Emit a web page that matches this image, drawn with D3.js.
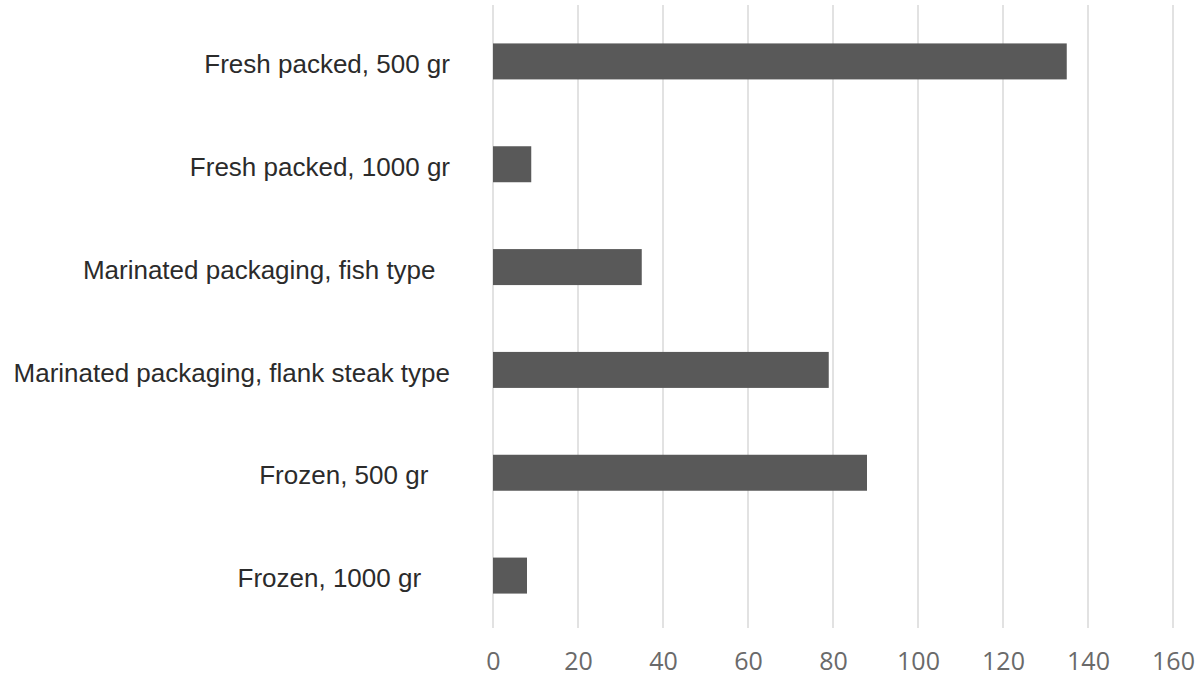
<!DOCTYPE html>
<html>
<head>
<meta charset="utf-8">
<script src="https://cdn.jsdelivr.net/npm/d3@7"></script>
<style>
  html, body { margin: 0; padding: 0; background: #fff; }
  svg { display: block; }
  .cat text { white-space: pre; }
</style>
</head>
<body>
<div id="chart"></div>
<script>
// category labels (trailing spaces kept as in the source chart)
var categories = [
  'Fresh packed, 500 gr',
  'Fresh packed, 1000 gr',
  'Marinated packaging, fish type  ',
  'Marinated packaging, flank steak type',
  'Frozen, 500 gr   ',
  'Frozen, 1000 gr    '
];
var values = [135, 9, 35, 79, 88, 8];
var ticks = [0, 20, 40, 60, 80, 100, 120, 140, 160];

var width = 1202, height = 679;

var svg = d3.select('#chart').append('svg')
  .attr('width', width)
  .attr('height', height);

var x = d3.scaleLinear().domain([0, 160]).range([493, 1173]);
var y = d3.scaleBand().domain(categories).range([10, 627])
  .paddingInner(0.65).paddingOuter(0.325);

// gridlines
svg.append('g').selectAll('line').data(ticks).enter().append('line')
  .attr('x1', function(d) { return x(d); })
  .attr('x2', function(d) { return x(d); })
  .attr('y1', 5)
  .attr('y2', 628)
  .attr('stroke', '#d9d9d9')
  .attr('stroke-width', 1.5);

// bars
svg.append('g').selectAll('rect').data(values).enter().append('rect')
  .attr('x', x(0))
  .attr('y', function(d, i) { return y(categories[i]); })
  .attr('width', function(d) { return x(d) - x(0); })
  .attr('height', y.bandwidth())
  .attr('fill', '#595959');

// x axis labels
var xAxis = d3.axisBottom(x).tickValues(ticks).tickSize(0).tickPadding(0);
var gx = svg.append('g').attr('transform', 'translate(0,652)').call(xAxis);
gx.select('.domain').remove();
gx.selectAll('text')
  .attr('font-family', '"Open Sans", sans-serif')
  .attr('font-size', 25)
  .attr('fill', '#6a6a6a');

// category labels
var gy = svg.append('g').attr('class', 'cat');
gy.selectAll('text').data(categories).enter().append('text')
  .attr('x', 450)
  .attr('y', function(d) { return y(d) + y.bandwidth() / 2; })
  .attr('dy', '0.45em')
  .attr('text-anchor', 'end')
  .attr('font-family', '"Liberation Sans", Arial, sans-serif')
  .attr('font-size', 26)
  .attr('fill', '#2b2b2b')
  .text(function(d) { return d; });
</script>
</body>
</html>
